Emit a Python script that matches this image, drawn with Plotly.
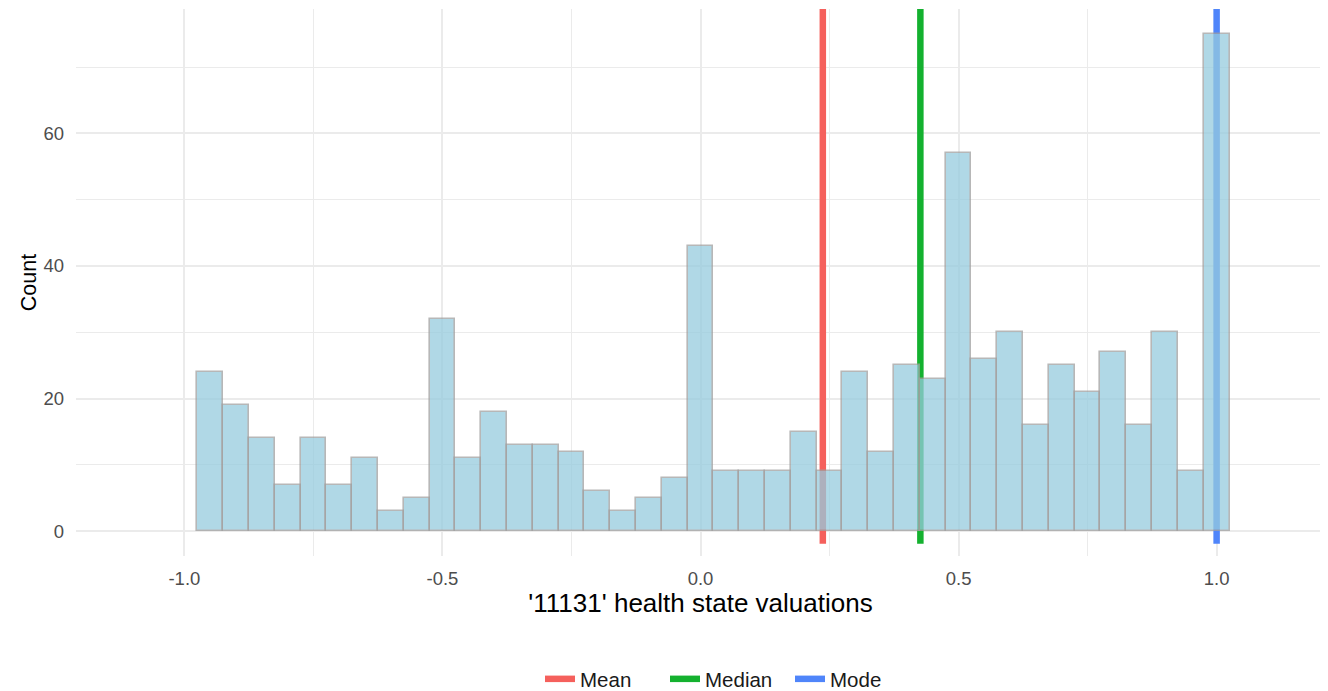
import plotly.graph_objects as go

# ---- data ----
bin_centers = [-0.95, -0.90, -0.85, -0.80, -0.75, -0.70, -0.65, -0.60, -0.55, -0.50,
               -0.45, -0.40, -0.35, -0.30, -0.25, -0.20, -0.15, -0.10, -0.05, 0.00,
               0.05, 0.10, 0.15, 0.20, 0.25, 0.30, 0.35, 0.40, 0.45, 0.50,
               0.55, 0.60, 0.65, 0.70, 0.75, 0.80, 0.85, 0.90, 0.95, 1.00]
counts = [24, 19, 14, 7, 14, 7, 11, 3, 5, 32,
          11, 18, 13, 13, 12, 6, 3, 5, 8, 43,
          9, 9, 9, 15, 9, 24, 12, 25, 23, 57,
          26, 30, 16, 25, 21, 27, 16, 30, 9, 75]
bin_width = 0.05

stat_names = ["Mean", "Median", "Mode"]
stat_values = [0.237, 0.426, 1.0]
stat_colors = ["#F5605C", "#14B12F", "#4F85FA"]

x_ticks = [-1.0, -0.5, 0.0, 0.5, 1.0]
x_ticktext = ["-1.0", "-0.5", "0.0", "0.5", "1.0"]
x_minor = [-0.75, -0.25, 0.25, 0.75]
y_ticks = [0, 20, 40, 60]
y_minor = [10, 30, 50, 70]

x_range = [-1.21, 1.21]
y_range = [-3.75, 78.75]
line_span = [-1.9, 78.75]

FONT = "Liberation Sans, Arial, Helvetica, sans-serif"
GRID = "#EBEBEB"

fig = go.Figure()

# legend entries for the statistic lines
for name, col in zip(stat_names, stat_colors):
    fig.add_trace(go.Scatter(x=[None], y=[None], mode="lines", name=name,
                             line=dict(color=col, width=6.5), showlegend=True))

fig.add_trace(go.Bar(
    x=bin_centers, y=counts, width=bin_width,
    marker=dict(color="rgb(150,203,222)", opacity=0.75,
                line=dict(color="#A0A0A0", width=1.6)),
    showlegend=False, hoverinfo="x+y"))

# vertical statistic lines, drawn between grid and bars
for name, val, col in zip(stat_names, stat_values, stat_colors):
    fig.add_shape(type="line", x0=val, x1=val, y0=line_span[0], y1=line_span[1],
                  xref="x", yref="y", layer="between",
                  line=dict(color=col, width=6.5))

fig.update_layout(
    width=1328, height=691,
    paper_bgcolor="white", plot_bgcolor="white",
    margin=dict(l=68, r=11, t=1, b=143, autoexpand=False),
    font=dict(family=FONT, size=18, color="#4D4D4D"),
    bargap=0,
    legend=dict(orientation="h", x=0.3715, xanchor="left", y=-0.2249, yanchor="middle",
                font=dict(family=FONT, size=20.5, color="#1A1A1A"),
                itemwidth=30, entrywidth=80, bgcolor="rgba(0,0,0,0)"),
)

fig.update_xaxes(
    range=x_range, tickvals=x_ticks, ticktext=x_ticktext, automargin=False,
    showgrid=True, gridcolor=GRID, gridwidth=1.5, zeroline=False,
    showline=False, ticks="", ticklabelstandoff=9,
    tickfont=dict(family=FONT, size=18.5, color="#4D4D4D"),
    minor=dict(tickvals=x_minor, showgrid=True, gridcolor=GRID, gridwidth=1),
    title=dict(text="'11131' health state valuations", standoff=2,
               font=dict(family=FONT, size=26, color="black")),
)
fig.update_yaxes(
    range=y_range, tickvals=y_ticks, automargin=False,
    showgrid=True, gridcolor=GRID, gridwidth=1.5, zeroline=False,
    showline=False, ticks="", ticklabelstandoff=11,
    tickfont=dict(family=FONT, size=18.5, color="#4D4D4D"),
    minor=dict(tickvals=y_minor, showgrid=True, gridcolor=GRID, gridwidth=1),
    title=dict(text="Count", standoff=0,
               font=dict(family=FONT, size=21.5, color="black")),
)

fig.write_html("out.html")
